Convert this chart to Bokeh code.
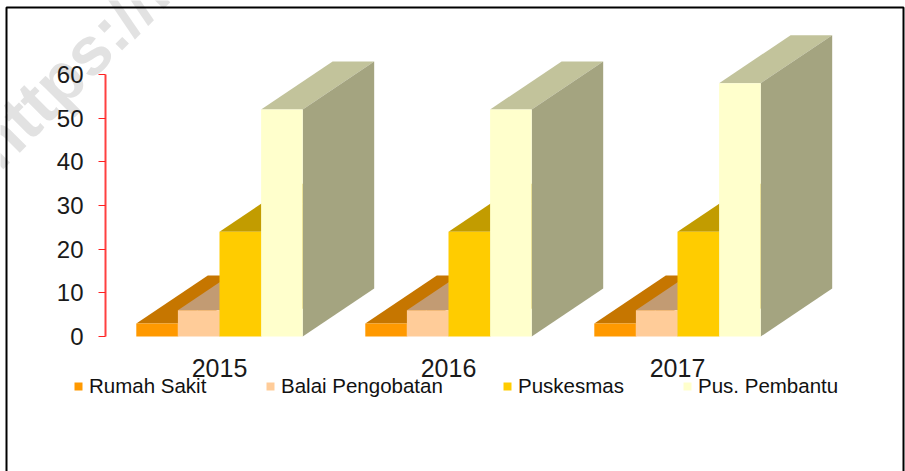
from bokeh.embed import file_html
from bokeh.resources import INLINE
from bokeh.plotting import figure
from bokeh.models import (FixedTicker, Legend, LegendItem, BoxAnnotation, Label, Range1d)

years = ["2015", "2016", "2017"]
rumah_sakit = [3, 3, 3]
balai_pengobatan = [6, 6, 6]
puskesmas = [24, 24, 24]
pus_pembantu = [52, 52, 58]
series_names = ["Rumah Sakit", "Balai Pengobatan", "Puskesmas", "Pus. Pembantu"]
y_ticks = [0, 10, 20, 30, 40, 50, 60]

front_colors = ["#FF9900", "#FFCC99", "#FFCC00", "#FFFFCC"]
top_colors = ["#C67600", "#C29B73", "#C29C00", "#C2C39B"]
side_colors = ["#C67600", "#C29B73", "#C29C00", "#A4A480"]

PX_X = 229.0
PX_Y = 262.0 / 60
BAR = 41.6 / PX_X
DX = 71.5 / PX_X
DY = 48 / PX_Y

# Backdrop: page frame and watermark, whose frame covers the whole canvas
bg = figure(width=905, height=471, frame_width=905, frame_height=471,
            output_backend="svg", toolbar_location=None,
            min_border=0, x_axis_type=None, y_axis_type=None,
            x_range=Range1d(0, 905), y_range=Range1d(0, 471))
bg.grid.visible = False
bg.outline_line_color = None
bg.background_fill_color = "white"
bg.border_fill_color = "white"
bg.add_layout(Label(x=-17.5, y=316, x_units="screen", y_units="screen", text="https://le", angle=45,
                    angle_units="deg", text_font="Liberation Sans", text_font_style="bold",
                    text_font_size="68px", text_color="#E2E2E2", text_baseline="alphabetic"))
bg.add_layout(BoxAnnotation(left=6, right=903, top=7, bottom=480, left_units="canvas", right_units="canvas",
                            top_units="canvas", bottom_units="canvas",
                            fill_color=None, line_color="black", line_alpha=1, line_width=2))

p = figure(width=905, height=471, frame_width=850, frame_height=410,
           output_backend="svg", toolbar_location=None,
           margin=(-471, 0, 0, 0), min_border_left=55, min_border_right=0,
           min_border_top=8, min_border_bottom=0,
           x_range=Range1d((55 - 219) / PX_X, (905 - 219) / PX_X),
           y_range=Range1d((336 - 418) / PX_Y, 328 / PX_Y))
p.grid.visible = False
p.outline_line_color = None
p.background_fill_color = "white"
p.background_fill_alpha = 0
p.border_fill_color = "white"
p.border_fill_alpha = 0

xa = p.xaxis[0]
xa.fixed_location = 0
xa.ticker = FixedTicker(ticks=[0, 1, 2])
xa.major_label_overrides = {i: y for i, y in enumerate(years)}
xa.axis_line_color = None
xa.major_tick_line_color = None
xa.minor_tick_line_color = None
xa.major_label_standoff = 16
xa.major_label_text_font = "Liberation Sans"
xa.major_label_text_font_size = "25px"
xa.major_label_text_color = "#1a1a1a"

ya = p.yaxis[0]
ya.fixed_location = (105 - 219) / PX_X
ya.ticker = FixedTicker(ticks=y_ticks)
ya.bounds = (0, 60)
ya.axis_line_color = "#FF4040"
ya.axis_line_width = 2
ya.major_tick_line_color = "#FF2020"
ya.major_tick_in = 0
ya.major_tick_out = 7
ya.minor_tick_line_color = None
ya.major_label_standoff = 15
ya.major_label_text_font = "Liberation Sans"
ya.major_label_text_font_size = "24px"
ya.major_label_text_color = "#1a1a1a"

series = [rumah_sakit, balai_pengobatan, puskesmas, pus_pembantu]
fronts = []
for k, vals in enumerate(series):
    lefts = [i + (k - 2) * BAR for i in range(len(years))]
    rights = [l + BAR for l in lefts]
    p.patches(
        [[l, r, r + DX, l + DX] for l, r in zip(lefts, rights)],
        [[v, v, v + DY, v + DY] for v in vals],
        fill_color=top_colors[k], line_color=None)
    p.patches(
        [[r, r + DX, r + DX, r] for r in rights],
        [[v, v + DY, DY, 0] for v in vals],
        fill_color=side_colors[k], line_color=None)
    fronts.append(p.quad(left=lefts, right=rights, bottom=0, top=vals,
                         fill_color=front_colors[k], line_color=None))

legend_x = [73 - 55, 265 - 55, 502 - 55, 682 - 55]
for name, r, lx in zip(series_names, fronts, legend_x):
    leg = Legend(items=[LegendItem(label=name, renderers=[r])], location=(lx, 20),
                 background_fill_alpha=0, border_line_color=None, padding=0, margin=0,
                 glyph_width=10, glyph_height=10, label_standoff=6, label_height=20,
                 label_text_font="Liberation Sans", label_text_font_size="20.5px",
                 label_text_color="#111111")
    p.add_layout(leg, "center")

open("out.html", "w").write(file_html([bg, p], INLINE))
